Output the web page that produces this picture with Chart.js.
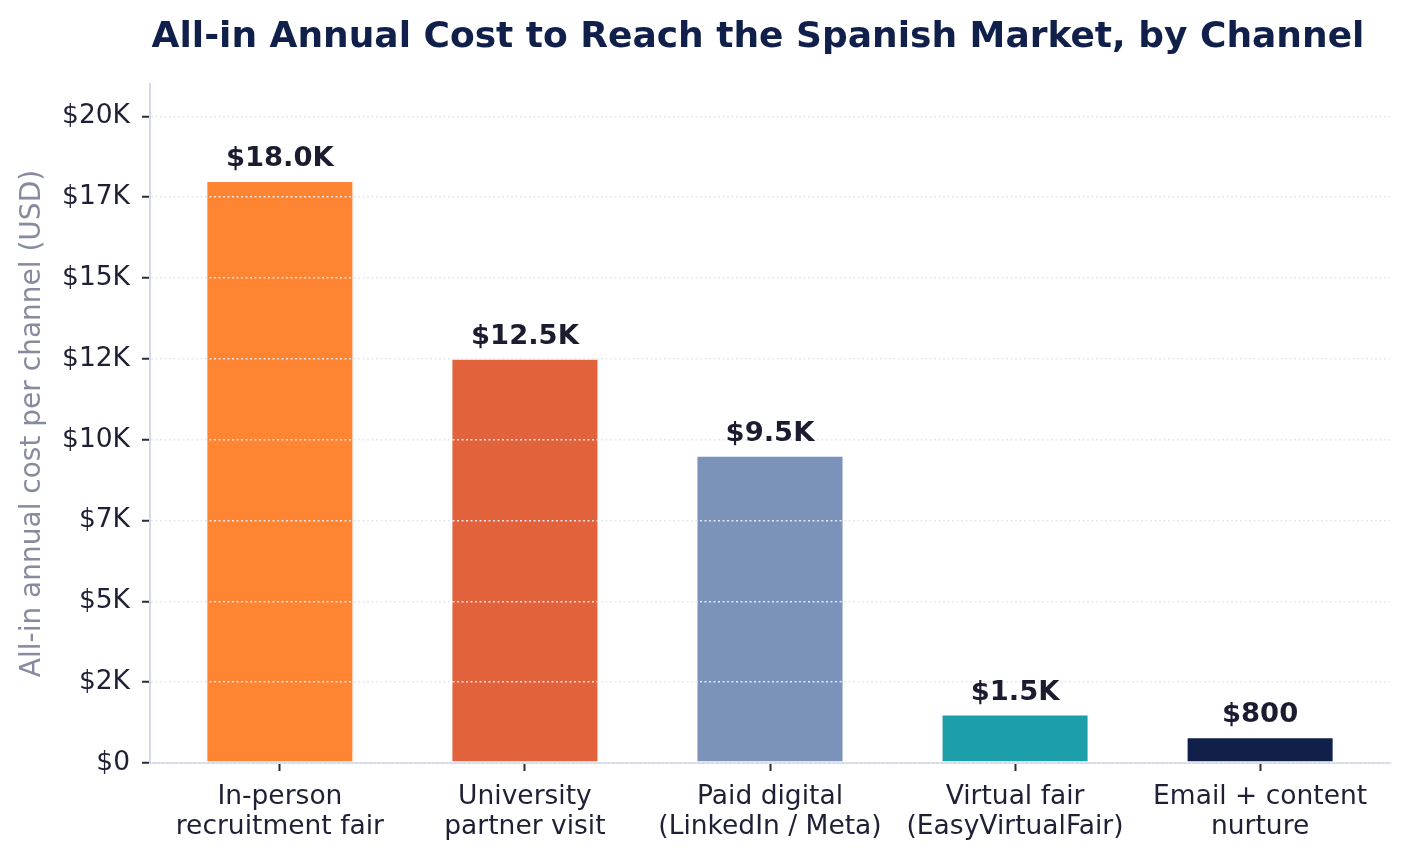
<!DOCTYPE html>
<html>
<head>
<meta charset="utf-8">
<script src="https://cdn.jsdelivr.net/npm/chart.js@4.4.1/dist/chart.umd.min.js"></script>
<style>
  html, body { margin: 0; padding: 0; background: #ffffff; }
  #wrap { width: 1409px; height: 858px; }
</style>
</head>
<body>
<div id="wrap"><canvas id="c" width="1409" height="858"></canvas></div>
<script>
// ---- data ----
const categories = [
  ['In-person', 'recruitment fair'],
  ['University', 'partner visit'],
  ['Paid digital', '(LinkedIn / Meta)'],
  ['Virtual fair', '(EasyVirtualFair)'],
  ['Email + content', 'nurture']
];
const costs = [18000, 12500, 9500, 1500, 800];
const barColors = ['#FF8533', '#E2623B', '#7B93BA', '#1C9FA8', '#10204B'];
const yTickValues = [0, 2500, 5000, 7500, 10000, 12500, 15000, 17500, 20000];
const yTickLabels = ['$0', '$2K', '$5K', '$7K', '$10K', '$12K', '$15K', '$17K', '$20K'];
const titleText = 'All-in Annual Cost to Reach the Spanish Market, by Channel';
const yTitle = 'All-in annual cost per channel (USD)';

const FONT = "'DejaVu Sans', sans-serif";

function fmtValue(v) {
  return v >= 1000 ? '$' + (v / 1000).toFixed(1) + 'K' : '$' + v;
}

const valueLabels = {
  id: 'valueLabels',
  afterDraw(chart) {
    const ctx = chart.ctx;
    const meta = chart.getDatasetMeta(0);
    ctx.save();
    ctx.font = "bold 27.4px " + FONT;
    ctx.fillStyle = '#1B1C30';
    ctx.textAlign = 'center';
    ctx.textBaseline = 'alphabetic';
    meta.data.forEach((bar, i) => {
      ctx.fillText(fmtValue(costs[i]), bar.x, bar.y - 15);
    });
    ctx.restore();
  }
};

const titlePlugin = {
  id: 'customTitle',
  afterDraw(chart) {
    const ctx = chart.ctx;
    const a = chart.chartArea;
    ctx.save();
    ctx.font = "bold 36px " + FONT;
    ctx.fillStyle = '#10204B';
    ctx.textAlign = 'center';
    ctx.textBaseline = 'alphabetic';
    ctx.fillText(titleText, (a.left + a.right) / 2 - 12, 47);
    ctx.restore();
  }
};

new Chart(document.getElementById('c'), {
  type: 'bar',
  data: {
    datasets: [{
      data: costs.map((v, i) => ({ x: i, y: v })),
      backgroundColor: barColors,
      borderColor: '#ffffff',
      borderWidth: 1,
      borderSkipped: false,
      barPercentage: 0.6,
      categoryPercentage: 1.0
    }]
  },
  options: {
    responsive: false,
    animation: false,
    devicePixelRatio: 1,
    layout: { padding: { top: 84, right: 19, bottom: 0, left: 0 } },
    plugins: {
      legend: { display: false },
      tooltip: { enabled: false },
      title: { display: false }
    },
    scales: {
      x: {
        type: 'linear',
        min: -0.53,
        max: 4.53,
        offset: false,
        bounds: 'data',
        afterBuildTicks(s) { s.ticks = categories.map((c, i) => ({ value: i })); },
        afterFit(s) { s.height = 95; },
        grid: { offset: false, drawOnChartArea: false, drawTicks: true, tickLength: 8, tickWidth: 2, tickColor: '#2A2B3D' },
        border: { display: true, color: '#D5D8E6', width: 2 },
        ticks: {
          autoSkip: false,
          maxRotation: 0,
          padding: 11,
          color: '#1F2035',
          font: { family: FONT, size: 26.5, lineHeight: 1.13 },
          callback: (v) => categories[Math.round(v)]
        }
      },
      y: {
        min: 0,
        max: 21000,
        afterBuildTicks(s) { s.ticks = yTickValues.map(v => ({ value: v })); },
        afterFit(s) { s.width = 150; },
        grid: { drawOnChartArea: true, drawTicks: true, tickLength: 8, tickWidth: 2, tickColor: '#2A2B3D', color: '#E6E8F1', lineWidth: 1.5, z: 1 },
        border: { display: true, color: '#D5D8E6', width: 2, dash: [2, 2.5], z: 1 },
        ticks: {
          padding: 12,
          color: '#1F2035',
          font: { family: FONT, size: 26.5 },
          callback: (v) => yTickLabels[yTickValues.indexOf(v)]
        },
        title: {
          display: true,
          text: yTitle,
          color: '#878B9F',
          font: { family: FONT, size: 28 },
          padding: { top: 16, bottom: 0 }
        }
      }
    }
  },
  plugins: [valueLabels, titlePlugin]
});
</script>
</body>
</html>
